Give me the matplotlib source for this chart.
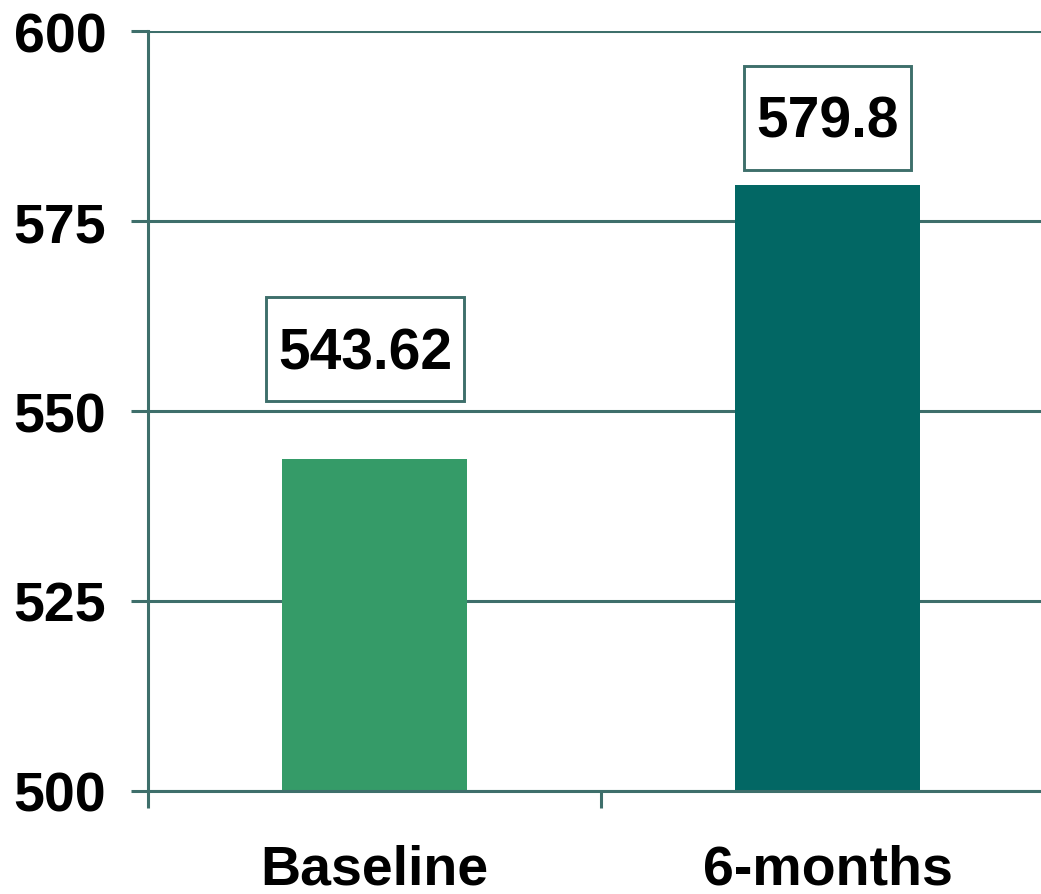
import matplotlib.pyplot as plt
from matplotlib.patches import Rectangle
from matplotlib.transforms import IdentityTransform
import numpy as np

# Data
categories = ['Baseline', '6-months']
values = [543.62, 579.8]
label_texts = ['543.62', '579.8']
bar_colors = ['#359b68', '#026764']
y_ticks = [500, 525, 550, 575, 600]

AXIS_COLOR = '#3e6f6b'
plt.rcParams['font.family'] = ['Liberation Sans', 'DejaVu Sans']

fig = plt.figure(figsize=(10.41, 8.95), dpi=100)
ax = fig.add_axes([148 / 1041, 103 / 895, 906 / 1041, 760 / 895])

x = np.arange(len(categories))
ax.bar(x, values, width=0.41, color=bar_colors, zorder=2)

ax.set_xlim(-0.5, 1.5)
ax.set_ylim(500, 600)
ax.set_yticks(y_ticks)
ax.set_yticklabels([str(t) for t in y_ticks], fontsize=40, fontweight='bold')
ax.set_xticks(x)
ax.set_xticklabels(categories, fontsize=40, fontweight='bold')
ax.set_xticks([-0.5, 0.5, 1.5], minor=True)

ax.tick_params(axis='y', length=12, width=2.2, color=AXIS_COLOR, pad=18)
ax.tick_params(axis='x', which='major', length=0, pad=38)
ax.tick_params(axis='x', which='minor', length=12, width=2.2, color=AXIS_COLOR)

ax.grid(axis='y', color=AXIS_COLOR, linewidth=2.2, zorder=1)
ax.set_axisbelow(True)

for side in ['top', 'right']:
    ax.spines[side].set_visible(False)
for side in ['left', 'bottom']:
    ax.spines[side].set_color(AXIS_COLOR)
    ax.spines[side].set_linewidth(2.2)
    ax.spines[side].set_zorder(3)

# value boxes: placement (x shift in category units, y in data units)
label_pos = [(-0.021, 557.6), (0.0, 588.05)]
texts = []
for xi, (dx, yl), txt in zip(x, label_pos, label_texts):
    t = ax.text(xi + dx, yl, txt, ha='center', va='center', fontsize=41,
                fontweight='bold', zorder=5)
    texts.append(t)

# frame each label: tight horizontally, taller vertically (like the original)
fig.canvas.draw()
for t in texts:
    bb = t.get_window_extent()
    w = bb.width + 24
    h = 104
    cy = (bb.y0 + bb.y1) / 2 + 4
    rect = Rectangle((bb.x0 - 12, cy - h / 2), w, h, transform=IdentityTransform(),
                     facecolor='white', edgecolor=AXIS_COLOR, linewidth=2.1,
                     zorder=4, clip_on=False)
    ax.add_patch(rect)

fig.savefig('out.png', dpi=100)
